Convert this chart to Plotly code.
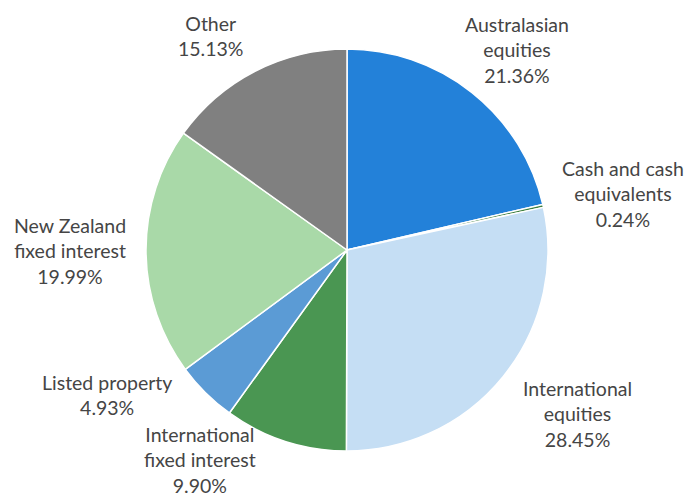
import math
import plotly.graph_objects as go

labels = ["Australasian equities", "Cash and cash equivalents", "International equities",
          "International fixed interest", "Listed property", "New Zealand fixed interest", "Other"]
label_lines = ["Australasian<br>equities", "Cash and cash<br>equivalents", "International<br>equities",
               "International<br>fixed interest", "Listed property", "New Zealand<br>fixed interest", "Other"]
values = [21.36, 0.24, 28.45, 9.90, 4.93, 19.99, 15.13]
colors = ["#2381D9", "#3E7F3E", "#C5DEF4", "#4A9652", "#5B9BD5", "#A9D9A8", "#808080"]

W, H = 684, 497
cx, cy, R = 347, 250, 201  # pixel center (from top) and radius

fig = go.Figure(go.Pie(
    labels=labels, values=values, sort=False, direction="clockwise", rotation=0,
    marker=dict(colors=colors, line=dict(color="white", width=1.5)),
    textinfo="none", hoverinfo="label+percent", showlegend=False,
    domain=dict(x=[(cx - R) / W, (cx + R) / W], y=[(H - cy - R) / H, (H - cy + R) / H]),
))

# labels placed radially outside each slice, with small nudges (px) like Excel's best-fit
lab_r = 270
nudge = [(2, 11), (13, 3), (21, -6), (-64, -47), (-50, -47), (-7, -1), (-13, 26)]

total = sum(values)
cum = 0
annotations = []
for i, v in enumerate(values):
    mid = (cum + v / 2) / total * 2 * math.pi
    cum += v
    px = cx + lab_r * math.sin(mid) + nudge[i][0]
    py = cy - lab_r * math.cos(mid) + nudge[i][1]
    annotations.append(dict(
        x=px / W, y=1 - py / H, xref="paper", yref="paper",
        text=f"{label_lines[i]}<br>{v:.2f}%", showarrow=False,
        xanchor="center", yanchor="middle", align="center",
        font=dict(family="Lato, Liberation Sans, sans-serif", size=19.5, color="#454545"),
    ))

fig.update_layout(
    width=W, height=H, margin=dict(l=0, r=0, t=0, b=0),
    paper_bgcolor="white", plot_bgcolor="white",
    annotations=annotations,
)
fig.write_html("out.html", config={"displayModeBar": False},
               post_script="document.body.style.margin='0';")
